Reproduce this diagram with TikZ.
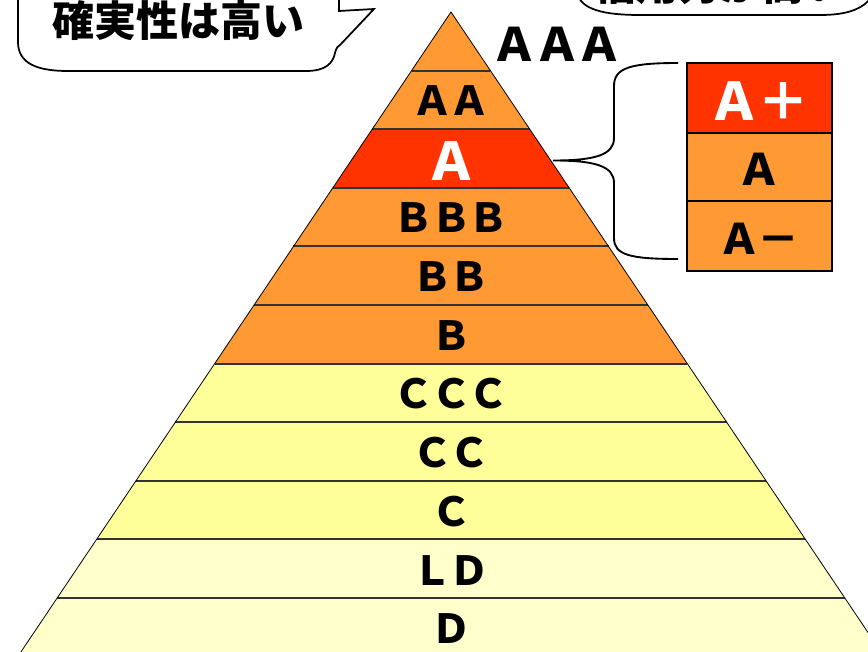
\documentclass[tikz,border=0pt]{standalone}
\usepackage{fontspec}
\newfontfamily\jp{Noto Sans CJK JP}
\definecolor{orng}{HTML}{FF9933}
\definecolor{redo}{HTML}{FF3300}
\definecolor{yel}{HTML}{FFFF99}
\definecolor{lyel}{HTML}{FFFFCC}
\newcommand\ltr[1]{\makebox[0.93em]{#1}}
\newcommand\fs[1]{\fontsize{#1}{#1}\selectfont}
\begin{document}
\begin{tikzpicture}[x=0.75pt,y=-0.75pt,
  lbl/.style={font=\jp\bfseries\fs{30pt}, inner sep=0pt, text=black},
  divline/.style={draw=black!80, line width=1.5pt},
  edge/.style={draw=black, line width=0.6pt},
  boxline/.style={draw=black, line width=2pt},
  bubble/.style={draw=black, line width=1.3pt, fill=white},
  bracel/.style={draw=black, line width=1.4pt}]
\useasboundingbox (0,0) rectangle (868,652);
\clip (0,0) rectangle (868,652);

% pyramid bands
\foreach \i/\col in {0/orng,1/orng,2/redo,3/orng,4/orng,5/orng,6/yel,7/yel,8/yel,9/lyel,10/lyel}{
  \pgfmathsetmacro\ya{12+58.6*\i}
  \pgfmathsetmacro\yb{12+58.6*(\i+1)}
  \pgfmathsetmacro\wa{0.672*58.6*\i}
  \pgfmathsetmacro\wb{0.672*58.6*(\i+1)}
  \fill[\col] (451-\wa,\ya) -- (451+\wa,\ya) -- (451+\wb,\yb) -- (451-\wb,\yb) -- cycle;
}
\foreach \i in {1,...,10}{
  \pgfmathsetmacro\ya{12+58.6*\i}
  \pgfmathsetmacro\wa{0.672*58.6*\i}
  \draw[divline] (451-\wa,\ya) -- (451+\wa,\ya);
}
\coordinate (apex) at (451,12);
\coordinate (bl) at (17.8,656.6);
\coordinate (br) at (884.2,656.6);
\draw[edge] (bl) -- (apex) -- (br);

% band labels
\node[lbl, font=\jp\bfseries\fs{34.5pt}] (lAAA) at (557,44) {\ltr{Ａ}\ltr{Ａ}\ltr{Ａ}};
\node[lbl] (lAA) at (451,101) {\ltr{Ａ}\ltr{Ａ}};
\node[lbl, font=\jp\bfseries\fs{39pt}, text=white] (lA) at (451,161) {Ａ};
\node[lbl] (lBBB) at (451,218) {\ltr{Ｂ}\ltr{Ｂ}\ltr{Ｂ}};
\node[lbl] (lBB) at (451,277) {\ltr{Ｂ}\ltr{Ｂ}};
\node[lbl] (lB) at (451,336) {Ｂ};
\node[lbl] (lCCC) at (451,394) {\ltr{Ｃ}\ltr{Ｃ}\ltr{Ｃ}};
\node[lbl] (lCC) at (451,453) {\ltr{Ｃ}\ltr{Ｃ}};
\node[lbl] (lC) at (451,512) {Ｃ};
\node[lbl] (lLD) at (451,571) {\ltr{Ｌ}\ltr{Ｄ}};
\node[lbl] (lD) at (451,629) {Ｄ};

% sub-rating box
\fill[redo] (687,63) rectangle (832,133);
\fill[orng] (687,133) rectangle (832,271);
\coordinate (boxtl) at (687,63);
\coordinate (boxbr) at (832,271);
\draw[boxline] (boxtl) rectangle (boxbr);
\draw[boxline] (687,133) -- (832,133);
\draw[boxline] (687,201) -- (832,201);
\node[lbl, font=\jp\bfseries\fs{39pt}, text=white] (bAp) at (759,101.5) {\ltr{Ａ}\ltr{＋}};
\node[lbl, font=\jp\bfseries\fs{32.5pt}] (bA) at (759,169) {Ａ};
\node[lbl, font=\jp\bfseries\fs{31.5pt}] (bAm) at (759,238.5) {\ltr{Ａ}\ltr{－}};

% brace
\coordinate (brtop) at (678,63);
\coordinate (brtip) at (553,160.5);
\coordinate (brbot) at (678,259);
\draw[bracel] (brtop) .. controls (630,63) and (614,68) .. (614,86) -- (614,138)
  .. controls (614,155) and (595,160.5) .. (brtip)
  .. controls (595,160.5) and (614,166) .. (614,183) -- (614,238)
  .. controls (614,255) and (630,259) .. (brbot);

% left callout
\draw[bubble] (18,-40) -- (18,42) .. controls (18,64) and (38,71) .. (68,71) -- (306,71)
  .. controls (326,71) and (333,63) .. (335,53) .. controls (336,48) and (338,46) .. (341,44)
  -- (374,9) -- (339,11) -- (339,-40);
\node[lbl, font=\jp\bfseries\fs{31.5pt}] (cl) at (178.5,21) {確実性は高い};

% right callout
\draw[bubble] (577,-40) -- (577,-8) .. controls (580,10) and (605,15) .. (640,15) -- (820,15)
  .. controls (850,15) and (866,8) .. (875,-8) -- (875,-40);
\node[lbl, font=\jp\bfseries\fs{31.5pt}] (cr) at (720,-16) {信用力が高い};
\end{tikzpicture}
\end{document}
